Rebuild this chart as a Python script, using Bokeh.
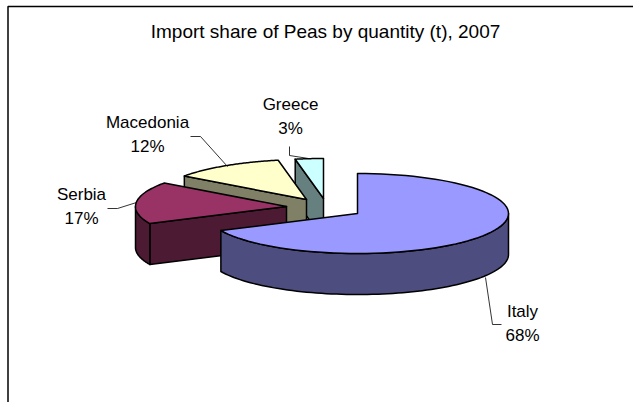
import numpy as np
from bokeh.plotting import figure
from bokeh.models import Range1d
from bokeh.core.properties import value
from bokeh.embed import file_html
from bokeh.resources import INLINE

TITLE = "Import share of Peas by quantity (t), 2007"
categories = ["Italy", "Serbia", "Macedonia", "Greece"]
shares = [68, 17, 12, 3]
top_colors = ["#9999FF", "#993366", "#FFFFCC", "#CCFFFF"]
wall_colors = ["#4D4D80", "#4D1A33", "#808066", "#668080"]
# exploded apex of each slice on the canvas
apex_x = [357, 286, 306, 323]
apex_y = [213, 206, 199, 198]
label_x = [522, 81, 147, 290]
label_y = [311, 194, 122, 104]
leaders = [([485, 492, 501], [277, 324, 324]),
           ([136, 117, 107], [202, 208, 208]),
           ([227, 200, 190], [166, 136, 136]),
           ([308, 289, 289], [158, 155, 146])]

A, B, DEPTH = 151, 40, 41
W, H = 633, 402

p = figure(width=W, height=H, output_backend="svg", toolbar_location=None,
           x_range=Range1d(0, W), y_range=Range1d(H, 0), min_border=0,
           outline_line_color=None, background_fill_color="white",
           border_fill_color="white")
p.xaxis.visible = False
p.yaxis.visible = False
p.grid.visible = False


def arc(cx, cy, a0, a1, n=80):
    t = np.radians(np.linspace(a0, a1, n))
    return cx + A * np.sin(t), cy - B * np.cos(t)


total = sum(shares)
bounds = np.cumsum([0] + shares) / total * 360.0
# frame
p.line([W, 7.5, 7.5], [6, 6, H], line_color="black", line_width=1.5)

# draw from back to front
for i in [3, 2, 1, 0]:
    a0, a1 = bounds[i], bounds[i + 1]
    cx, cy = apex_x[i], apex_y[i]
    ax, ay = arc(cx, cy, a0, a1)
    kw = dict(line_color="black", line_width=1.5, line_join="round")
    if i == 0:
        wx, wy = arc(cx, cy, 90, a1)
        p.patch(np.r_[wx, wx[::-1]], np.r_[wy, wy[::-1] + DEPTH], fill_color=wall_colors[i], **kw)
    else:
        # radial side wall from the rim at a0 back to the apex
        sx, sy = arc(cx, cy, a0, a0, 1)
        p.patch([cx, sx[0], sx[0], cx], [cy, sy[0], sy[0] + DEPTH, cy + DEPTH],
                fill_color=wall_colors[i], **kw)
        if a0 < 270:
            wx, wy = arc(cx, cy, a0, min(a1, 270))
            p.patch(np.r_[wx, wx[::-1]], np.r_[wy, wy[::-1] + DEPTH], fill_color=wall_colors[i], **kw)
    p.patch(np.r_[cx, ax], np.r_[cy, ay], fill_color=top_colors[i], **kw)

for (lx, ly) in leaders:
    p.line(lx, ly, line_color="black", line_width=0.8)

font = value("Liberation Sans")
p.text([325], [31], text=[TITLE], text_font=font, text_font_size="19px",
       text_align="center", text_baseline="middle", text_color="black")
p.text(label_x, label_y, text=categories, text_font=font, text_font_size="17px",
       text_align="center", text_baseline="middle", text_color="black")
p.text(label_x, [y + 24 for y in label_y], text=[f"{s}%" for s in shares], text_font=font,
       text_font_size="17px", text_align="center", text_baseline="middle", text_color="black")

open("out.html", "w").write(file_html(p, INLINE))
